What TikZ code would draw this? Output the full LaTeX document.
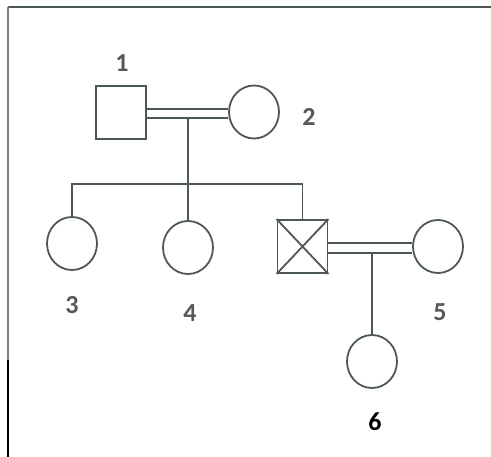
\documentclass[tikz,border=0pt]{standalone}
\usepackage{fontspec}
\setmainfont{Carlito}[BoldFont={Carlito Bold}]
\usetikzlibrary{shapes.geometric}
\definecolor{ln}{HTML}{4E5852}
\definecolor{lb}{HTML}{55595A}
\begin{document}
\begin{tikzpicture}[x=1pt,y=-1pt,
  ped/.style={draw=ln,line width=1.8pt},
  male/.style={ped,rectangle,minimum width=50pt,minimum height=53pt,inner sep=0pt},
  female/.style={ped,ellipse,minimum width=50pt,minimum height=53pt,inner sep=0pt},
  lab/.style={text=lb,font=\fontsize{26}{30}\selectfont\bfseries,inner sep=0pt}]
\useasboundingbox (0,0) rectangle (491,457);
% frame
\draw[ln,line width=1.8pt] (8,7) -- (491,7);
\draw[gray,line width=1.5pt] (8,7) -- (8,360);
\draw[black,line width=1.8pt] (8,360) -- (8,457);
% generation I
\node[male] (p1) at (121,112.5) {};
\node[female] (p2) at (254,112) {};
\node[lab] (l1) at (122,63) {1};
\node[lab] (l2) at (309,117) {2};
\draw[ped] (p1.east |- 0,109) -- (p2.west |- 0,109);
\draw[ped] (p1.east |- 0,118) -- (p2.west |- 0,118);
\coordinate (m1) at (188,118);
\coordinate (sib) at (188,184);
\draw[ped] (m1) -- (sib);
% generation II
\node[female] (p3) at (72,243.5) {};
\node[female] (p4) at (188,247.5) {};
\node[male] (p5) at (302.5,246.5) {};
\node[female] (p6) at (438,246.5) {};
\draw[ped] (p5.north west) -- (p5.south east) (p5.north east) -- (p5.south west);
\draw[ped] (p3.north) -- (p3.north |- sib) -- (p5.north |- sib) -- (p5.north);
\draw[ped] (sib) -- (p4.north);
\node[lab] (l3) at (72,305) {3};
\node[lab] (l4) at (190,313) {4};
\node[lab] (l5) at (440,312) {5};
\draw[ped] (p5.east |- 0,243) -- (p6.west |- 0,243);
\draw[ped] (p5.east |- 0,253) -- (p6.west |- 0,253);
\coordinate (m2) at (372,253);
% generation III
\node[female] (p7) at (372,361.5) {};
\draw[ped] (m2) -- (p7.north);
\node[lab,text=black] (l6) at (375,422) {6};
\end{tikzpicture}
\end{document}
